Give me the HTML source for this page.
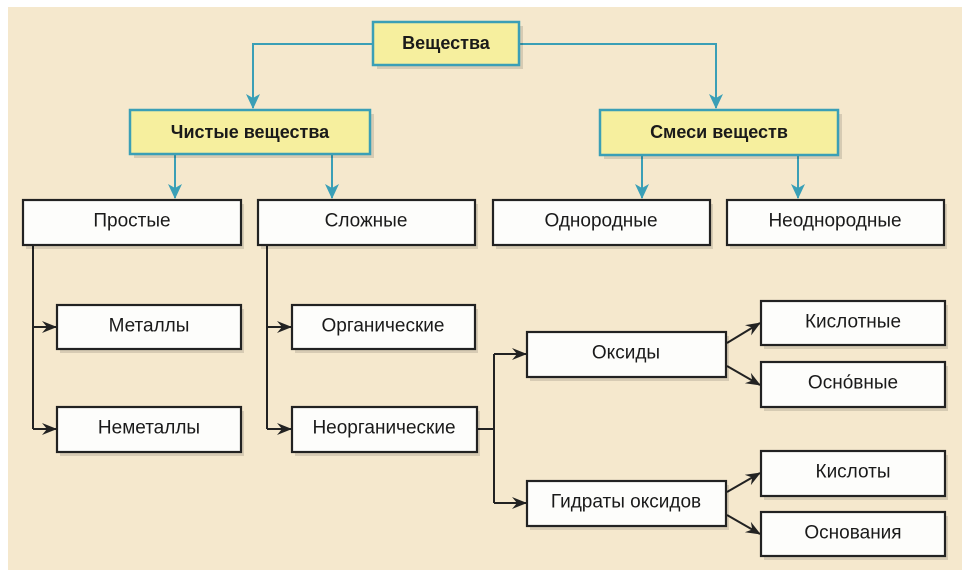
<!DOCTYPE html>
<html><head><meta charset="utf-8"><style>
html,body{margin:0;padding:0;background:#fff;}
svg{display:block;}
text{font-family:"Liberation Sans","DejaVu Sans",sans-serif;font-size:19px;fill:#1a1a1a;text-anchor:middle;dominant-baseline:central;}
.b{font-weight:bold;font-size:18px;}
.w{fill:#fdfdfb;stroke:#222;stroke-width:2.2;}
.y{fill:#f6ef9e;stroke:#3a9fb6;stroke-width:2.5;}
.sh{fill:#000;opacity:0.12;}
.bl{stroke:#3a9fb6;stroke-width:2;fill:none;}
.k{stroke:#222;stroke-width:2;fill:none;}
</style></head><body>
<svg width="966" height="578" viewBox="0 0 966 578">
<defs>
<marker id="ab" markerWidth="16" markerHeight="16" refX="14" refY="7" orient="auto" markerUnits="userSpaceOnUse"><path d="M0,0 L15,7 L0,14 L4,7z" fill="#3a9fb6"/></marker>
<marker id="ak" markerWidth="16" markerHeight="14" refX="14" refY="6" orient="auto" markerUnits="userSpaceOnUse"><path d="M0,0 L15,6 L0,12 L5,6z" fill="#222"/></marker>
</defs>
<rect x="0" y="0" width="966" height="578" fill="#fff"/>
<rect x="8" y="7" width="954" height="563" fill="#f5e8cd"/>

<path class="bl" d="M373,44 H253 V108" marker-end="url(#ab)"/>
<path class="bl" d="M519,44 H716 V108" marker-end="url(#ab)"/>
<path class="bl" d="M175,155 V198" marker-end="url(#ab)"/>
<path class="bl" d="M332,155 V198" marker-end="url(#ab)"/>
<path class="bl" d="M642,155 V198" marker-end="url(#ab)"/>
<path class="bl" d="M798,155 V198" marker-end="url(#ab)"/>

<path class="k" d="M33,245 V429"/>
<path class="k" d="M33,327 H56" marker-end="url(#ak)"/>
<path class="k" d="M33,429 H56" marker-end="url(#ak)"/>
<path class="k" d="M267,245 V429"/>
<path class="k" d="M267,327 H291" marker-end="url(#ak)"/>
<path class="k" d="M267,429 H291" marker-end="url(#ak)"/>
<path class="k" d="M477,429 H494"/>
<path class="k" d="M494,354 V503"/>
<path class="k" d="M494,354 H526" marker-end="url(#ak)"/>
<path class="k" d="M494,503 H526" marker-end="url(#ak)"/>
<path class="k" d="M727,343 L760,323" marker-end="url(#ak)"/>
<path class="k" d="M727,366 L760,385" marker-end="url(#ak)"/>
<path class="k" d="M727,492 L760,473" marker-end="url(#ak)"/>
<path class="k" d="M727,515 L760,534" marker-end="url(#ak)"/>

<g class="sh">
<rect x="377" y="26" width="146" height="43"/>
<rect x="134" y="114" width="240" height="44"/>
<rect x="604" y="114" width="238" height="45"/>
<rect x="26" y="204" width="218" height="45"/><rect x="261" y="204" width="217" height="45"/>
<rect x="496" y="204" width="217" height="45"/><rect x="730" y="204" width="217" height="45"/>
<rect x="60" y="309" width="184" height="44"/><rect x="60" y="411" width="184" height="45"/>
<rect x="295" y="309" width="183" height="44"/><rect x="295" y="411" width="185" height="45"/>
<rect x="530" y="336" width="199" height="45"/><rect x="530" y="485" width="199" height="45"/>
<rect x="764" y="305" width="184" height="44"/><rect x="764" y="366" width="184" height="45"/>
<rect x="764" y="455" width="184" height="45"/><rect x="764" y="516" width="184" height="44"/>
</g>

<rect class="y" x="373" y="22" width="146" height="43"/><text class="b" x="446" y="43">Вещества</text>
<rect class="y" x="130" y="110" width="240" height="44"/><text class="b" x="250" y="132">Чистые вещества</text>
<rect class="y" x="600" y="110" width="238" height="45"/><text class="b" x="719" y="132">Смеси веществ</text>

<rect class="w" x="23" y="200" width="218" height="45"/><text x="132" y="221">Простые</text>
<rect class="w" x="258" y="200" width="217" height="45"/><text x="366" y="221">Сложные</text>
<rect class="w" x="493" y="200" width="217" height="45"/><text x="601" y="221">Однородные</text>
<rect class="w" x="727" y="200" width="217" height="45"/><text x="835" y="221">Неоднородные</text>

<rect class="w" x="57" y="305" width="184" height="44"/><text x="149" y="326">Металлы</text>
<rect class="w" x="57" y="407" width="184" height="45"/><text x="149" y="428">Неметаллы</text>
<rect class="w" x="292" y="305" width="183" height="44"/><text x="383" y="326">Органические</text>
<rect class="w" x="292" y="407" width="185" height="45"/><text x="384" y="428">Неорганические</text>

<rect class="w" x="527" y="332" width="199" height="45"/><text x="626" y="353">Оксиды</text>
<rect class="w" x="527" y="481" width="199" height="45"/><text x="626" y="502">Гидраты оксидов</text>

<rect class="w" x="761" y="301" width="184" height="44"/><text x="853" y="322">Кислотные</text>
<rect class="w" x="761" y="362" width="184" height="45"/><text x="853" y="383">Осно́вные</text>
<rect class="w" x="761" y="451" width="184" height="45"/><text x="853" y="472">Кислоты</text>
<rect class="w" x="761" y="512" width="184" height="44"/><text x="853" y="533">Основания</text>
</svg>
</body></html>
